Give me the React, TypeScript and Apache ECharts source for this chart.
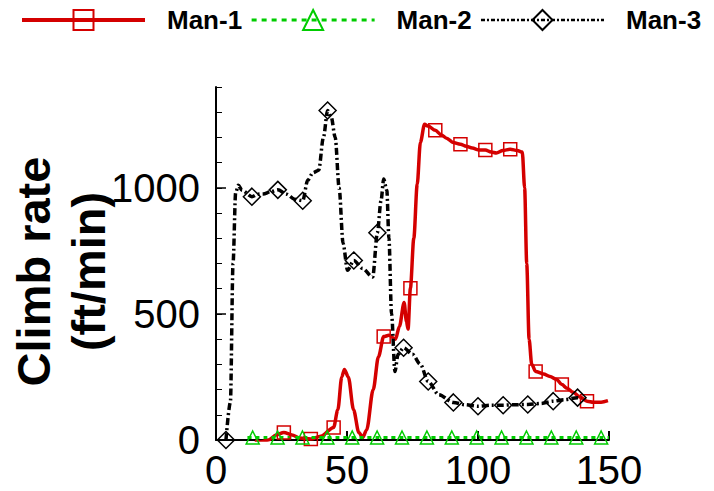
import React, { useEffect, useRef } from "react";
import * as echarts from "echarts";

const seriesNames = ["Man-1", "Man-2", "Man-3"];
const xTickStep = 50;
const yTickStep = 500;
const yMinorStep = 100;

// Man-1 (red, squares)
const man1Line: [number, number][] = [
  [15, 0], [20, 0], [23, 20], [29, 20], [32, 8], [40, 15], [46.5, 120], [48, 250], [49, 280],
  [50.5, 250], [52.5, 120], [54.5, 30], [56, 10], [57.5, 40], [60, 200], [62, 330], [66, 415],
  [68.5, 400], [70, 450], [71.8, 545], [72.7, 470], [73.3, 440], [75.5, 800], [76.8, 1014],
  [78, 1180], [79.6, 1252], [81, 1245], [86, 1210], [88, 1197], [90.5, 1180], [95.5, 1165],
  [97.8, 1158], [100.5, 1150], [105, 1142], [107, 1138], [109.5, 1148], [115, 1148], [116.9, 1142],
  [117.8, 1000], [118.6, 700], [119.5, 400], [120.5, 300], [125, 262], [127.5, 252], [130, 240],
  [134, 205], [136.3, 189], [139, 170], [144, 150], [147, 150], [149.6, 156],
];
const man1Marks: [number, number][] = [
  [17.1, -8], [25.9, 30], [36.2, 4], [44.9, 50], [64, 410], [74.2, 602], [83.7, 1228],
  [93.3, 1173], [102.8, 1150], [112.3, 1153], [122, 272], [132, 220], [141.6, 154],
];

// Man-2 (green, triangles)
const man2Line: [number, number][] = [
  [12, 10], [19, 10], [28, 10], [38, 10], [47, 10], [57, 10], [66, 10], [76, 10], [85, 10],
  [95, 10], [104, 10], [114, 10], [123, 10], [133, 10], [142, 10], [150, 10],
];
const man2Marks: [number, number][] = [
  [14, 10], [23.5, 10], [33, 10], [42.5, 10], [52, 10], [61.5, 10], [71, 10], [80.5, 10],
  [90, 10], [99.5, 10], [109, 10], [118.5, 10], [128, 10], [137.5, 10], [147, 10],
];

// Man-3 (black, diamonds)
const man3Line: [number, number][] = [
  [5.5, 150], [6.5, 700], [7.5, 980], [8.5, 1010], [10, 990], [16, 975], [18, 976], [21, 985],
  [27, 975], [30, 955], [35, 1030], [37, 1060], [39.2, 1070], [41, 1200], [44, 1280], [45.5, 1200],
  [47, 1000], [48.5, 780], [50.2, 673], [56, 680], [59.8, 646], [63, 950], [64, 1035], [65.2, 990],
  [66, 800], [67, 500], [68.3, 272], [69.5, 340], [75, 340], [78, 300], [85, 180], [95, 140],
  [105, 138], [114, 140], [124, 145], [133, 160], [139.5, 165],
];
const man3Marks: [number, number][] = [
  [3.8, 0], [13.7, 965], [23.6, 992], [33.1, 949], [42.6, 1307], [52.6, 712], [61.6, 822],
  [71.6, 366], [81, 232], [90.6, 149], [100, 134], [109.6, 138], [119, 141], [128.7, 154], [138, 168],
];

function build(line: [number, number][], marks: [number, number][]) {
  const pts: any[] = [
    ...line.map((p) => ({ value: p, symbol: "none" })),
    ...marks.map((p) => ({ value: p })),
  ];
  pts.sort((a, b) => a.value[0] - b.value[0]);
  return pts;
}

const FONT = "Arial, 'Liberation Sans', sans-serif";

export default function App() {
  const ref = useRef<HTMLDivElement>(null);
  useEffect(() => {
    document.body.style.margin = "0";
    const chart = echarts.init(ref.current!, null, { renderer: "svg" });
    const mk = (
      name: string,
      color: string,
      symbol: string,
      size: number,
      line: [number, number][],
      marks: [number, number][],
      width: number,
      type: any
    ) => ({
      name,
      type: "line",
      data: build(line, marks),
      symbol,
      symbolSize: size,
      smooth: 0.3,
      smoothMonotone: "x",
      showAllSymbol: true,
      lineStyle: { color, width, type },
      itemStyle: { color: "rgba(0,0,0,0)", borderColor: color, borderWidth: 1.5 },
      emphasis: { disabled: true },
    });
    chart.setOption({
      animation: false,
      backgroundColor: "#fff",
      legend: {
        left: 20,
        top: 7,
        width: 700,
        padding: 0,
        itemWidth: 123,
        itemHeight: 25,
        itemGap: 8,
        data: [
          { name: seriesNames[0], lineStyle: { width: 4, color: "#d40000", type: "solid" } },
          { name: seriesNames[1], lineStyle: { width: 3, color: "#00cc00", type: [5, 5] } },
          { name: seriesNames[2], lineStyle: { width: 2.5, color: "#000", type: [4, 2, 2, 2] } },
        ],
        textStyle: {
          fontFamily: FONT,
          fontSize: 26,
          fontWeight: "bold",
          color: "#000",
          padding: [0, 0, 0, 17],
        },
      },
      grid: { left: 216, right: 105, top: 87, bottom: 51, outerBoundsMode: "none", containLabel: false },
      xAxis: {
        type: "value",
        min: 0,
        max: 150,
        interval: xTickStep,
        axisLine: { lineStyle: { color: "#000", width: 2 } },
        axisTick: { inside: true, length: 9, lineStyle: { color: "#000", width: 2 } },
        axisLabel: { fontFamily: FONT, fontSize: 40, color: "#000", margin: 10 },
        splitLine: { show: false },
      },
      yAxis: [
        {
          type: "value",
          min: 0,
          max: 1400,
          interval: yTickStep,
          name: "Climb rate\n(ft/min)",
          nameLocation: "middle",
          nameRotate: 90,
          nameGap: 100,
          nameMoveOverlap: false,
          nameTextStyle: {
            fontFamily: FONT,
            fontSize: 47,
            fontWeight: "bold",
            color: "#000",
            lineHeight: 55,
            padding: [0, 16, 0, 0],
          },
          axisLine: { show: true, lineStyle: { color: "#000", width: 2 } },
          axisTick: { show: true, inside: true, length: 10, lineStyle: { color: "#000", width: 1.5 } },
          axisLabel: {
            fontFamily: FONT,
            fontSize: 40,
            color: "#000",
            margin: 16,
            showMaxLabel: false,
            formatter: (v: number) => String(v),
          },
          splitLine: { show: false },
        },
        {
          type: "value",
          min: 0,
          max: 1400,
          interval: yMinorStep,
          position: "left",
          axisLine: { show: false },
          axisTick: { show: true, inside: true, length: 6, lineStyle: { color: "#000", width: 1 } },
          axisLabel: { show: false },
          splitLine: { show: false },
        },
      ],
      series: [
        mk(seriesNames[0], "#d40000", "rect", 13, man1Line, man1Marks, 3.5, "solid"),
        mk(seriesNames[1], "#00cc00", "triangle", 13, man2Line, man2Marks, 3, [4, 4]),
        mk(seriesNames[2], "#000000", "diamond", 17, man3Line, man3Marks, 3.5, [7, 3, 2, 3]),
      ],
    });
    return () => chart.dispose();
  }, []);
  return <div ref={ref} style={{ width: 714, height: 491 }} />;
}
